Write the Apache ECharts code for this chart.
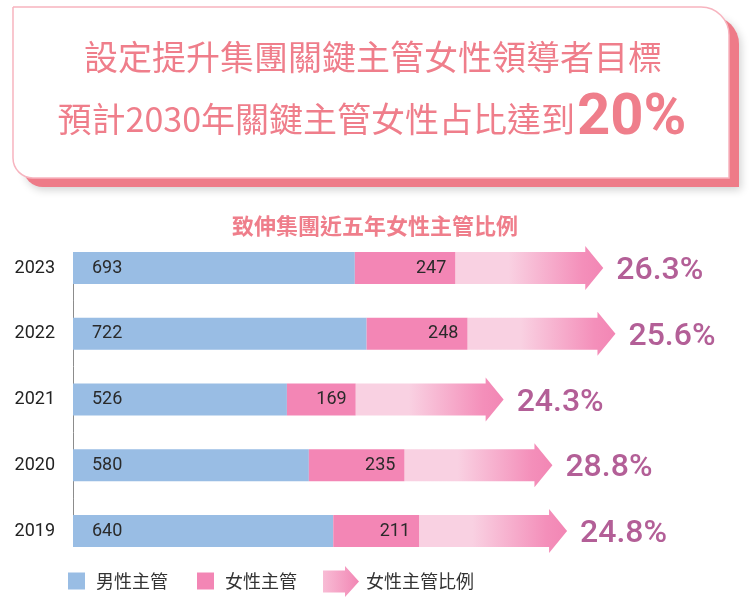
<!DOCTYPE html>
<html><head><meta charset="utf-8">
<script src="https://cdn.jsdelivr.net/npm/echarts@6/dist/echarts.min.js"></script>
<style>html,body{margin:0;padding:0;background:#fff}#c{width:753px;height:599px}</style>
</head><body><div id="c"></div>
<script>
// ---- data ----
const years = ['2023', '2022', '2021', '2020', '2019'];
const maleValues = [693, 722, 526, 580, 640];
const femaleValues = [247, 248, 169, 235, 211];
const femaleRatioLabels = ['26.3%', '25.6%', '24.3%', '28.8%', '24.8%'];
const titleLine1 = '設定提升集團關鍵主管女性領導者目標';
const titleLine2 = '預計2030年關鍵主管女性占比達到';
const titleTarget = '20%';
const subtitleText = '致伸集團近五年女性主管比例';
const seriesNames = ['男性主管', '女性主管', '女性主管比例'];

// ---- styles ----
const CJK = '"Noto Sans CJK TC", "Noto Sans CJK SC", sans-serif';
const NUM = 'Roboto, "Noto Sans", sans-serif';
const titlePink = '#ef7e8b';
const blue = '#99bde4';
const pink = '#f386b5';
const pctColor = '#b35f97';

const arrowGradient = () => new echarts.graphic.LinearGradient(0, 0, 1, 0, [
  { offset: 0, color: '#f9d1e2' },
  { offset: 0.36, color: '#f9d1e2' },
  { offset: 0.86, color: '#f48fba' },
  { offset: 1, color: '#f286b4' }
]);
const legendArrowGradient = new echarts.graphic.LinearGradient(0, 0, 1, 0, [
  { offset: 0, color: '#f8bcd5' },
  { offset: 1, color: '#f286b4' }
]);

const arrowData = years.map((y, i) => [maleValues[i] + femaleValues[i], i]);

const legendText = { fontFamily: CJK, fontSize: 18, color: '#333' };

const chart = echarts.init(document.getElementById('c'), null, { renderer: 'canvas' });
chart.setOption({
  animation: false,
  backgroundColor: '#fff',
  graphic: [
    { type: 'rect', z: 0, shape: { x: 23, y: 16, width: 716, height: 171, r: [0, 28, 0, 20] },
      style: { fill: '#ee7b88', shadowBlur: 8, shadowOffsetX: 2, shadowOffsetY: 3, shadowColor: 'rgba(0,0,0,0.18)' } },
    { type: 'rect', z: 1, shape: { x: 13, y: 7, width: 716, height: 171, r: [0, 28, 0, 20] },
      style: { fill: '#ffffff', stroke: '#f7b4bf', lineWidth: 1.5 } }
  ],
  title: [
    { text: titleLine1, left: 373, textAlign: 'center', top: 40, padding: 0,
      textStyle: { fontFamily: CJK, fontSize: 34, fontWeight: 'normal', color: titlePink } },
    { text: '{a|' + titleLine2 + '}{b|' + titleTarget + '}', left: 372, textAlign: 'center', top: 90, padding: 0,
      textStyle: { fontWeight: 'normal', rich: {
        a: { fontFamily: CJK, fontSize: 34, fontWeight: 'normal', color: titlePink, padding: [0, 2, 0, 0] },
        b: { fontFamily: NUM, fontSize: 58, fontWeight: 'bold', color: titlePink }
      } } },
    { text: subtitleText, left: 375, textAlign: 'center', top: 215, padding: 0,
      textStyle: { fontFamily: CJK, fontSize: 22, fontWeight: 'bold', color: titlePink } }
  ],
  legend: [
    { data: [seriesNames[0]], left: 68, top: 572, padding: 0, itemWidth: 17, itemHeight: 17, icon: 'rect',
      textStyle: Object.assign({ padding: [0, 0, 0, 6] }, legendText) },
    { data: [seriesNames[1]], left: 197, top: 572, padding: 0, itemWidth: 17, itemHeight: 17, icon: 'rect',
      textStyle: Object.assign({ padding: [0, 0, 0, 6] }, legendText) },
    { data: [{ name: seriesNames[2], icon: 'path://M0,4.5H22V0L36,15.5L22,31V26.5H0Z',
               itemStyle: { color: legendArrowGradient } }],
      left: 323, top: 566, padding: 0, itemWidth: 36, itemHeight: 31,
      textStyle: Object.assign({ padding: [0, 0, 0, 2] }, legendText) }
  ],
  grid: { left: 73, width: 610, top: 268, height: 263, containLabel: false },
  xAxis: { type: 'value', min: 0, max: 1500, show: false },
  yAxis: {
    type: 'category', data: years, inverse: true, boundaryGap: false,
    axisLine: { show: false }, axisTick: { show: false }, splitLine: { show: false },
    axisLabel: { margin: 18, fontFamily: NUM, fontSize: 18, color: '#222' }
  },
  series: [
    { name: seriesNames[0], type: 'bar', stack: 'm', data: maleValues, barWidth: 32,
      itemStyle: { color: blue },
      label: { show: true, position: 'insideLeft', distance: 19, fontFamily: NUM, fontSize: 18, color: '#2a2a2a' } },
    { name: seriesNames[1], type: 'bar', stack: 'm', data: femaleValues, barWidth: 32,
      itemStyle: { color: pink },
      label: { show: true, position: 'insideRight', distance: 9, fontFamily: NUM, fontSize: 18, color: '#2a2a2a' } },
    { name: seriesNames[2], type: 'custom', clip: false, data: arrowData,
      encode: { x: 0, y: 1 },
      itemStyle: { color: '#f386b5' },
      renderItem: function (params, api) {
        const cat = api.value(1);
        const end = api.coord([api.value(0), cat]);
        const base = api.coord([0, cat]);
        const band = api.size([0, 1])[1];
        const x0 = end[0], cy = end[1];
        const bodyH = 32, bodyLen = 130, headLen = 18, headH = 44;
        const xb = x0 + bodyLen, xt = xb + headLen;
        const idx = params.dataIndex;
        const n = arrowData.length;
        const lx = Math.round(base[0]) + 0.5;
        const top = idx === 0 ? cy - bodyH / 2 : cy - band / 2;
        const bot = idx === n - 1 ? cy + bodyH / 2 : cy + band / 2;
        return {
          type: 'group',
          children: [
            { type: 'polygon',
              shape: { points: [[x0, cy - bodyH / 2], [xb, cy - bodyH / 2], [xb, cy - headH / 2], [xt, cy],
                                [xb, cy + headH / 2], [xb, cy + bodyH / 2], [x0, cy + bodyH / 2]] },
              style: { fill: arrowGradient() } },
            { type: 'text',
              style: { text: femaleRatioLabels[idx], x: xt + 13, y: cy + 3, align: 'left', verticalAlign: 'middle',
                       fill: pctColor, fontFamily: NUM, fontSize: 32, fontWeight: 500 } },
            { type: 'line', shape: { x1: lx, y1: top, x2: lx, y2: bot },
              style: { stroke: '#8c8c8c', lineWidth: 1 } }
          ]
        };
      }
    }
  ]
});
</script>
</body></html>
